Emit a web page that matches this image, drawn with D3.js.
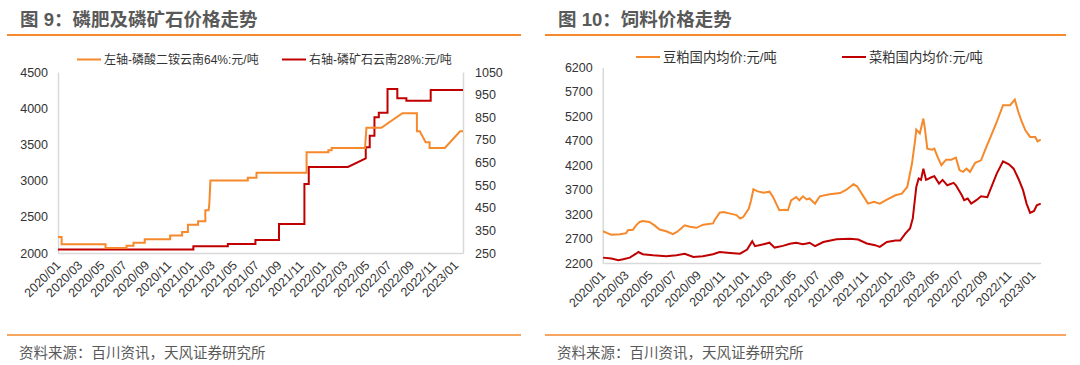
<!DOCTYPE html>
<html><head><meta charset="utf-8">
<script src="https://cdn.jsdelivr.net/npm/d3@7"></script>
<style>
body{margin:0;background:#fff;}
svg{display:block;font-family:"Liberation Sans","Noto Sans CJK SC",sans-serif;}
</style></head><body>
<svg id="c" width="1080" height="365"></svg>
<script>
// ---------- data ----------
const monthTicks = ["2020/01","2020/03","2020/05","2020/07","2020/09","2020/11","2021/01","2021/03","2021/05","2021/07","2021/09","2021/11","2022/01","2022/03","2022/05","2022/07","2022/09","2022/11","2023/01"];
const dapTicks = [2000,2500,3000,3500,4000,4500];
const rockTicks = [250,350,450,550,650,750,850,950,1050];
const feedTicks = [2200,2700,3200,3700,4200,4700,5200,5700,6200];

const dapName = "左轴-磷酸二铵云南64%:元/吨";
const dapDates = ["2020-01-01","2020-01-11","2020-01-11","2020-05-11","2020-05-11","2020-07-08","2020-07-08","2020-07-27","2020-07-27","2020-08-27","2020-08-27","2020-11-05","2020-11-05","2020-12-08","2020-12-08","2020-12-24","2020-12-24","2021-01-21","2021-01-21","2021-02-10","2021-02-10","2021-02-19","2021-02-21","2021-02-24","2021-06-07","2021-06-07","2021-07-01","2021-07-01","2021-11-16","2021-11-16","2022-01-15","2022-01-15","2022-01-24","2022-01-24","2022-04-26","2022-04-30","2022-06-10","2022-08-07","2022-09-16","2022-09-16","2022-09-24","2022-10-10","2022-10-21","2022-10-21","2022-12-02","2023-01-13","2023-01-21"];
const dapValues = [2220,2220,2120,2120,2070,2070,2100,2100,2140,2140,2190,2190,2240,2240,2290,2290,2390,2390,2440,2440,2590,2590,2680,3000,3000,3040,3040,3110,3110,3390,3390,3420,3420,3450,3450,3730,3730,3930,3930,3680,3680,3530,3530,3450,3450,3680,3680];

const rockName = "右轴-磷矿石云南28%:元/吨";
const rockDates = ["2020-01-01","2021-01-08","2021-01-08","2021-04-13","2021-04-13","2021-06-28","2021-06-28","2021-09-01","2021-09-01","2021-11-10","2021-11-10","2021-11-22","2021-11-22","2022-03-10","2022-04-28","2022-04-28","2022-05-09","2022-05-09","2022-05-22","2022-05-22","2022-06-03","2022-06-03","2022-06-27","2022-06-27","2022-07-24","2022-07-24","2022-08-18","2022-08-18","2022-10-24","2022-10-24","2023-01-21"];
const rockValues = [265,265,280,280,290,290,307,307,378,378,555,555,630,630,668,717,717,768,768,850,850,870,870,975,975,934,934,923,923,970,970];

const soyName = "豆粕国内均价:元/吨";
const soyDates = ["2020-01-02","2020-01-11","2020-01-23","2020-02-14","2020-03-01","2020-03-05","2020-03-18","2020-03-26","2020-04-04","2020-04-12","2020-04-29","2020-05-12","2020-05-25","2020-06-11","2020-06-28","2020-07-07","2020-07-15","2020-07-28","2020-08-10","2020-08-27","2020-09-13","2020-10-08","2020-10-12","2020-10-25","2020-11-04","2020-11-21","2020-12-07","2020-12-16","2020-12-24","2021-01-07","2021-01-13","2021-01-19","2021-01-28","2021-02-14","2021-03-01","2021-03-10","2021-03-18","2021-03-26","2021-04-09","2021-04-17","2021-04-25","2021-05-08","2021-05-16","2021-05-25","2021-06-04","2021-06-11","2021-06-25","2021-07-07","2021-08-01","2021-08-28","2021-09-13","2021-10-01","2021-10-10","2021-10-22","2021-11-07","2021-11-22","2021-12-07","2021-12-25","2022-01-16","2022-02-01","2022-02-15","2022-02-27","2022-03-07","2022-03-10","2022-03-19","2022-03-28","2022-04-01","2022-04-07","2022-04-19","2022-04-25","2022-05-04","2022-05-13","2022-05-25","2022-06-07","2022-06-19","2022-06-28","2022-07-07","2022-07-16","2022-07-25","2022-08-07","2022-08-22","2022-09-01","2022-09-19","2022-10-01","2022-10-17","2022-11-04","2022-11-16","2022-11-25","2022-12-04","2022-12-13","2022-12-25","2023-01-07","2023-01-13","2023-01-21"];
const soyValues = [2850,2815,2780,2790,2810,2870,2880,2970,3040,3060,3040,2970,2885,2850,2790,2830,2880,2970,2940,2920,2985,3010,3075,3230,3245,3210,3180,3110,3140,3310,3480,3710,3670,3640,3660,3550,3415,3280,3290,3280,3480,3550,3485,3565,3500,3520,3415,3565,3605,3630,3700,3810,3770,3620,3415,3450,3415,3495,3585,3620,3755,4235,4710,4930,4850,5155,4950,4540,4520,4540,4355,4200,4315,4315,4355,4100,4065,4130,4065,4250,4300,4505,4850,5085,5430,5430,5545,5290,5085,4915,4780,4780,4690,4725];

const rapeName = "菜粕国内均价:元/吨";
const rapeDates = ["2020-01-02","2020-01-23","2020-02-10","2020-02-22","2020-03-10","2020-03-26","2020-04-01","2020-04-12","2020-05-08","2020-06-11","2020-07-07","2020-07-28","2020-08-19","2020-09-12","2020-10-08","2020-10-25","2020-11-21","2020-12-16","2021-01-03","2021-01-16","2021-01-23","2021-02-14","2021-03-01","2021-03-14","2021-04-04","2021-04-22","2021-05-08","2021-05-25","2021-06-04","2021-06-11","2021-06-25","2021-07-16","2021-08-19","2021-09-22","2021-10-13","2021-11-04","2021-11-25","2021-12-07","2021-12-25","2022-01-16","2022-01-28","2022-02-10","2022-02-22","2022-03-01","2022-03-10","2022-03-16","2022-03-22","2022-03-28","2022-04-04","2022-04-19","2022-04-25","2022-05-07","2022-05-16","2022-05-28","2022-06-13","2022-06-19","2022-07-04","2022-07-10","2022-07-19","2022-07-28","2022-08-10","2022-08-22","2022-09-07","2022-09-19","2022-10-01","2022-10-17","2022-11-01","2022-11-13","2022-11-25","2022-12-07","2022-12-16","2022-12-25","2023-01-04","2023-01-11","2023-01-21"];
const rapeValues = [2310,2290,2255,2275,2310,2390,2425,2380,2360,2340,2360,2390,2325,2340,2380,2425,2405,2390,2475,2645,2545,2585,2615,2515,2550,2595,2615,2585,2600,2615,2545,2630,2685,2695,2680,2600,2565,2530,2630,2660,2660,2800,2905,3110,3755,3930,3900,4130,3900,3960,3975,3825,3900,3790,3840,3790,3585,3485,3520,3415,3485,3565,3545,3790,4030,4280,4220,4130,3930,3690,3415,3225,3265,3380,3415];

// ---------- setup ----------
const ORANGE = "#F5892C", RED = "#C00000", GRAY_TXT = "#595959", AXIS = "#D9D9D9", LBL = "#333333";
const svg = d3.select("#c");
const parseDay = d3.timeParse("%Y-%m-%d");
const parseMonth = d3.timeParse("%Y/%m");
const tickDates = monthTicks.map(parseMonth);
const fmt = d3.timeFormat("%Y/%m");
const numFmt = d3.format("d");
const domainX = [parseDay("2020-01-01"), parseDay("2023-01-21")];

function header(x0, x1, title) {
  svg.append("text").attr("x", x0 + 13).attr("y", 25.5).attr("font-size", 18.5).attr("font-weight", "bold")
    .attr("fill", GRAY_TXT).text(title);
  svg.append("line").attr("x1", x0).attr("x2", x1).attr("y1", 35).attr("y2", 35).attr("stroke", ORANGE).attr("stroke-width", 2);
  svg.append("line").attr("x1", x0).attr("x2", x1).attr("y1", 335).attr("y2", 335).attr("stroke", ORANGE).attr("stroke-width", 1.5);
  svg.append("text").attr("x", x0 + 12).attr("y", 358).attr("font-size", 14.5).attr("fill", GRAY_TXT).text("资料来源：百川资讯，天风证券研究所");
}
function xAxis(g, x, yBottom) {
  const ax = g.append("g").attr("transform", `translate(0,${yBottom})`)
    .call(d3.axisBottom(x).tickValues(tickDates).tickFormat(fmt).tickSize(0).tickSizeOuter(0));
  ax.select(".domain").attr("stroke", AXIS).attr("stroke-width", 1.5);
  ax.selectAll("text").attr("fill", LBL).attr("font-size", 12.5).attr("text-anchor", "end")
    .attr("dy", null).attr("y", 0).attr("x", 0)
    .attr("transform", "translate(3,13) rotate(-45)");
}
function legendItem(x, y, color, label, fs) {
  svg.append("line").attr("x1", x).attr("x2", x + 24).attr("y1", y).attr("y2", y).attr("stroke", color).attr("stroke-width", 2);
  svg.append("text").attr("x", x + 27).attr("y", y).attr("dy", "0.36em").attr("font-size", fs).attr("fill", LBL).text(label);
}

// ---------- chart 9 ----------
header(7, 521, "图 9：磷肥及磷矿石价格走势");
{
  const g = svg.append("g");
  const x = d3.scaleTime().domain(domainX).range([58, 463]);
  const yL = d3.scaleLinear().domain([2000, 4500]).range([253, 72]);
  const yR = d3.scaleLinear().domain([250, 1050]).range([253, 72]);
  const aL = g.append("g").attr("transform", "translate(58,0)")
    .call(d3.axisLeft(yL).tickValues(dapTicks).tickFormat(numFmt).tickSize(0).tickSizeOuter(0).tickPadding(10));
  const aR = g.append("g").attr("transform", "translate(463,0)")
    .call(d3.axisRight(yR).tickValues(rockTicks).tickFormat(numFmt).tickSize(0).tickSizeOuter(0).tickPadding(12));
  [aL, aR].forEach(a => {
    a.select(".domain").attr("stroke", AXIS).attr("stroke-width", 1.5);
    a.selectAll("text").attr("fill", LBL).attr("font-size", 12.5);
  });
  xAxis(g, x, 253);
  const dap = dapDates.map((d, i) => ({d: parseDay(d), v: dapValues[i]}));
  const rock = rockDates.map((d, i) => ({d: parseDay(d), v: rockValues[i]}));
  g.append("path").datum(rock).attr("fill", "none").attr("stroke", RED).attr("stroke-width", 2)
    .attr("d", d3.line().x(p => x(p.d)).y(p => yR(p.v)));
  g.append("path").datum(dap).attr("fill", "none").attr("stroke", ORANGE).attr("stroke-width", 2)
    .attr("d", d3.line().x(p => x(p.d)).y(p => yL(p.v)));
  legendItem(77, 59.5, ORANGE, dapName, 12);
  legendItem(282, 59.5, RED, rockName, 12);
}

// ---------- chart 10 ----------
header(545, 1066, "图 10：饲料价格走势");
{
  const g = svg.append("g");
  const x = d3.scaleTime().domain(domainX).range([602.7, 1040.7]);
  const y = d3.scaleLinear().domain([2200, 6200]).range([263, 67.5]);
  const aL = g.append("g").attr("transform", "translate(602.7,0)")
    .call(d3.axisLeft(y).tickValues(feedTicks).tickFormat(numFmt).tickSize(0).tickSizeOuter(0).tickPadding(10));
  aL.select(".domain").attr("stroke", AXIS).attr("stroke-width", 1.5);
  aL.selectAll("text").attr("fill", LBL).attr("font-size", 12.5);
  xAxis(g, x, 263);
  const soy = soyDates.map((d, i) => ({d: parseDay(d), v: soyValues[i]}));
  const rape = rapeDates.map((d, i) => ({d: parseDay(d), v: rapeValues[i]}));
  g.append("path").datum(soy).attr("fill", "none").attr("stroke", ORANGE).attr("stroke-width", 2)
    .attr("d", d3.line().x(p => x(p.d)).y(p => y(p.v)));
  g.append("path").datum(rape).attr("fill", "none").attr("stroke", RED).attr("stroke-width", 2)
    .attr("d", d3.line().x(p => x(p.d)).y(p => y(p.v)));
  legendItem(636, 57, ORANGE, soyName, 13.3);
  legendItem(842, 57, RED, rapeName, 13.3);
}
</script>
</body></html>
